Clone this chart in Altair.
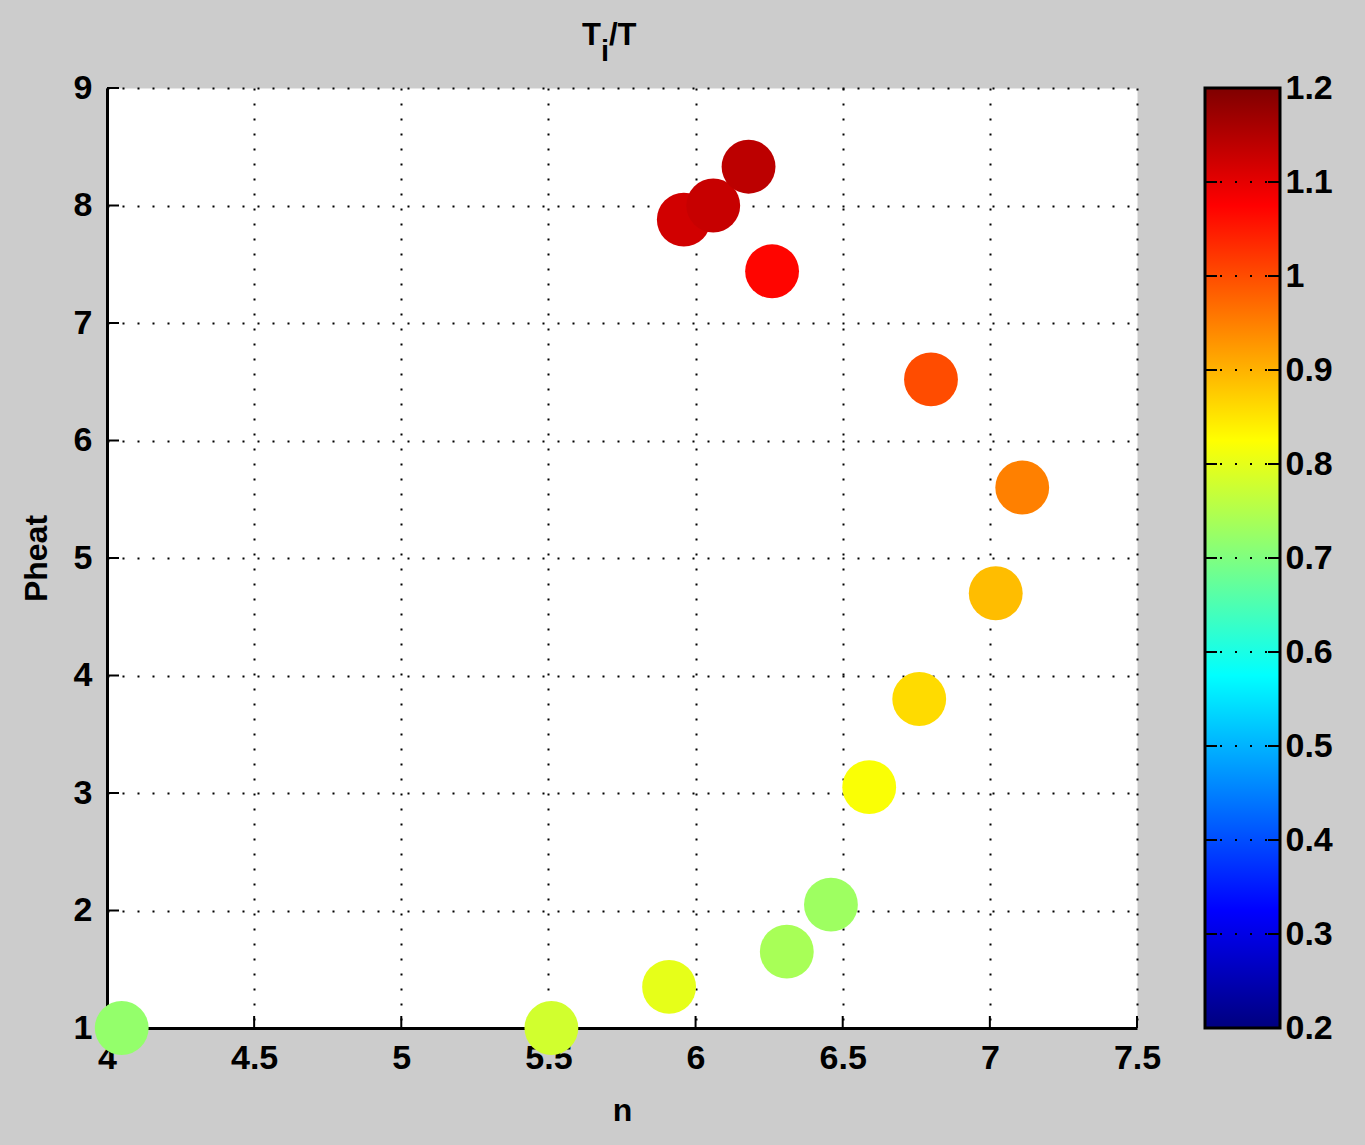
import altair as alt
import pandas as pd

# Scatter data: exponent n, heating power and ion/electron temperature ratio
n_vals = [4.05, 5.51, 5.91, 6.31, 6.46, 6.59, 6.76, 7.02, 7.11, 6.80, 6.26, 5.96, 6.06, 6.18]
pheat_vals = [1.0, 1.0, 1.35, 1.65, 2.05, 3.05, 3.8, 4.7, 5.6, 6.52, 7.44, 7.88, 8.0, 8.33]
ratio_vals = [0.72, 0.78, 0.80, 0.74, 0.73, 0.82, 0.86, 0.89, 0.95, 1.00, 1.07, 1.12, 1.13, 1.14]

# Axis and colorbar tick values
x_ticks = [4, 4.5, 5, 5.5, 6, 6.5, 7, 7.5]
y_ticks = [1, 2, 3, 4, 5, 6, 7, 8, 9]
c_ticks = [0.2, 0.3, 0.4, 0.5, 0.6, 0.7, 0.8, 0.9, 1.0, 1.1, 1.2]
c_range = [0.2, 1.2]

# Jet colormap anchor points over the colour range 0.2 .. 1.2
jet_domain = [0.2, 0.325, 0.575, 0.825, 1.075, 1.2]
jet_colors = ["#00007f", "#0000ff", "#00ffff", "#ffff00", "#ff0000", "#7f0000"]

FONT = "Liberation Sans"
FS = 34
W, H = 1030, 940
# colorbar placement to the right of the axes (pixels, relative to plot origin)
CB_LEFT, CB_RIGHT = 1098, 1173

df = pd.DataFrame({"n": n_vals, "Pheat": pheat_vals, "ratio": ratio_vals})
xt = pd.DataFrame({"n": x_ticks})
yt = pd.DataFrame({"Pheat": y_ticks})
ct = pd.DataFrame({"c": c_ticks})
cb = pd.DataFrame({"c": [c_range[0]], "c_hi": [c_range[1]]})

x_scale = alt.Scale(domain=[4, 7.5], nice=False, zero=False)
y_scale = alt.Scale(domain=[1, 9], nice=False, zero=False)
c_scale = alt.Scale(domain=c_range, nice=False, zero=False)

label_style = dict(
    labelFont=FONT,
    labelFontSize=FS,
    labelFontWeight="bold",
    labelColor="black",
    labelOverlap=False,
    labelFlush=False,
)

axis_common = dict(
    format="~g",
    grid=True,
    gridColor="black",
    gridDash=[2, 13],
    gridWidth=2,
    gridOpacity=1,
    domainColor="black",
    domainWidth=3,
    ticks=False,
    titleFont=FONT,
    titleFontSize=32,
    titleFontWeight="bold",
    titleColor="black",
    **label_style,
)

x_enc = alt.X("n:Q", scale=x_scale,
              axis=alt.Axis(values=x_ticks, title="n", labelPadding=13,
                            titlePadding=20, **axis_common))
y_enc = alt.Y("Pheat:Q", scale=y_scale,
              axis=alt.Axis(values=y_ticks, title="Pheat", labelPadding=15,
                            titlePadding=20, **axis_common))

points = alt.Chart(df).mark_circle(size=2900, opacity=1).encode(
    x=x_enc,
    y=y_enc,
    color=alt.Color(
        "ratio:Q",
        scale=alt.Scale(domain=jet_domain, range=jet_colors, interpolate="rgb"),
        legend=None,
    ),
)

# Inward tick marks on the bottom and left axes
x_tick_marks = alt.Chart(xt).mark_rule(color="black", strokeWidth=2).encode(
    x=alt.X("n:Q", scale=x_scale), y=alt.value(H), y2=alt.value(H - 12)
)
y_tick_marks = alt.Chart(yt).mark_rule(color="black", strokeWidth=2).encode(
    y=alt.Y("Pheat:Q", scale=y_scale), x=alt.value(0), x2=alt.value(12)
)

# Title T_i/T with a subscript i
title_main = alt.Chart(pd.DataFrame({"s": ["T"]})).mark_text(
    font=FONT, fontSize=31, fontWeight="bold", color="black", align="left", baseline="alphabetic"
).encode(text="s:N", x=alt.value(475), y=alt.value(-43))
title_sub = alt.Chart(pd.DataFrame({"s": ["i"]})).mark_text(
    font=FONT, fontSize=29, fontWeight="bold", color="black", align="left", baseline="alphabetic"
).encode(text="s:N", x=alt.value(494), y=alt.value(-27))
title_rest = alt.Chart(pd.DataFrame({"s": ["/T"]})).mark_text(
    font=FONT, fontSize=31, fontWeight="bold", color="black", align="left", baseline="alphabetic"
).encode(text="s:N", x=alt.value(502), y=alt.value(-43))

main = alt.layer(x_tick_marks, y_tick_marks, points, title_main, title_sub, title_rest)

# Colorbar: a jet gradient filled bar with its own value scale on the right
stops = [
    alt.GradientStop(offset=(d - c_range[0]) / (c_range[1] - c_range[0]), color=c)
    for d, c in zip(jet_domain, jet_colors)
]
jet_gradient = alt.LinearGradient(gradient="linear", stops=stops, x1=0, x2=0, y1=1, y2=0)

cbar_rect = alt.Chart(cb).mark_rect(fill=jet_gradient, stroke="black", strokeWidth=3).encode(
    y=alt.Y(
        "c:Q",
        scale=c_scale,
        axis=alt.Axis(
            orient="right",
            offset=CB_RIGHT - W,
            values=c_ticks,
            format="~g",
            title=None,
            grid=False,
            domain=False,
            ticks=False,
            labelPadding=5,
            **label_style,
        ),
    ),
    y2="c_hi:Q",
    x=alt.value(CB_LEFT),
    x2=alt.value(CB_RIGHT),
)
cbar_dots = alt.Chart(ct).mark_rule(color="black", strokeWidth=2, strokeDash=[2, 13]).encode(
    y=alt.Y("c:Q", scale=c_scale), x=alt.value(CB_LEFT), x2=alt.value(CB_RIGHT)
)
cbar_tick_l = alt.Chart(ct).mark_rule(color="black", strokeWidth=2).encode(
    y=alt.Y("c:Q", scale=c_scale), x=alt.value(CB_LEFT), x2=alt.value(CB_LEFT + 12)
)
cbar_tick_r = alt.Chart(ct).mark_rule(color="black", strokeWidth=2).encode(
    y=alt.Y("c:Q", scale=c_scale), x=alt.value(CB_RIGHT - 12), x2=alt.value(CB_RIGHT)
)
colorbar = alt.layer(cbar_rect, cbar_dots, cbar_tick_l, cbar_tick_r)

chart = (
    alt.layer(main, colorbar)
    .resolve_scale(y="independent")
    .properties(
        width=W,
        height=H,
        autosize=alt.AutoSizeParams(type="none"),
        padding={"left": 107, "top": 88, "right": 228, "bottom": 117},
        background="#cccccc",
    )
    .configure_view(fill="white", stroke="transparent")
)

chart.save("out.html", embed_options={"renderer": "svg", "actions": False})
